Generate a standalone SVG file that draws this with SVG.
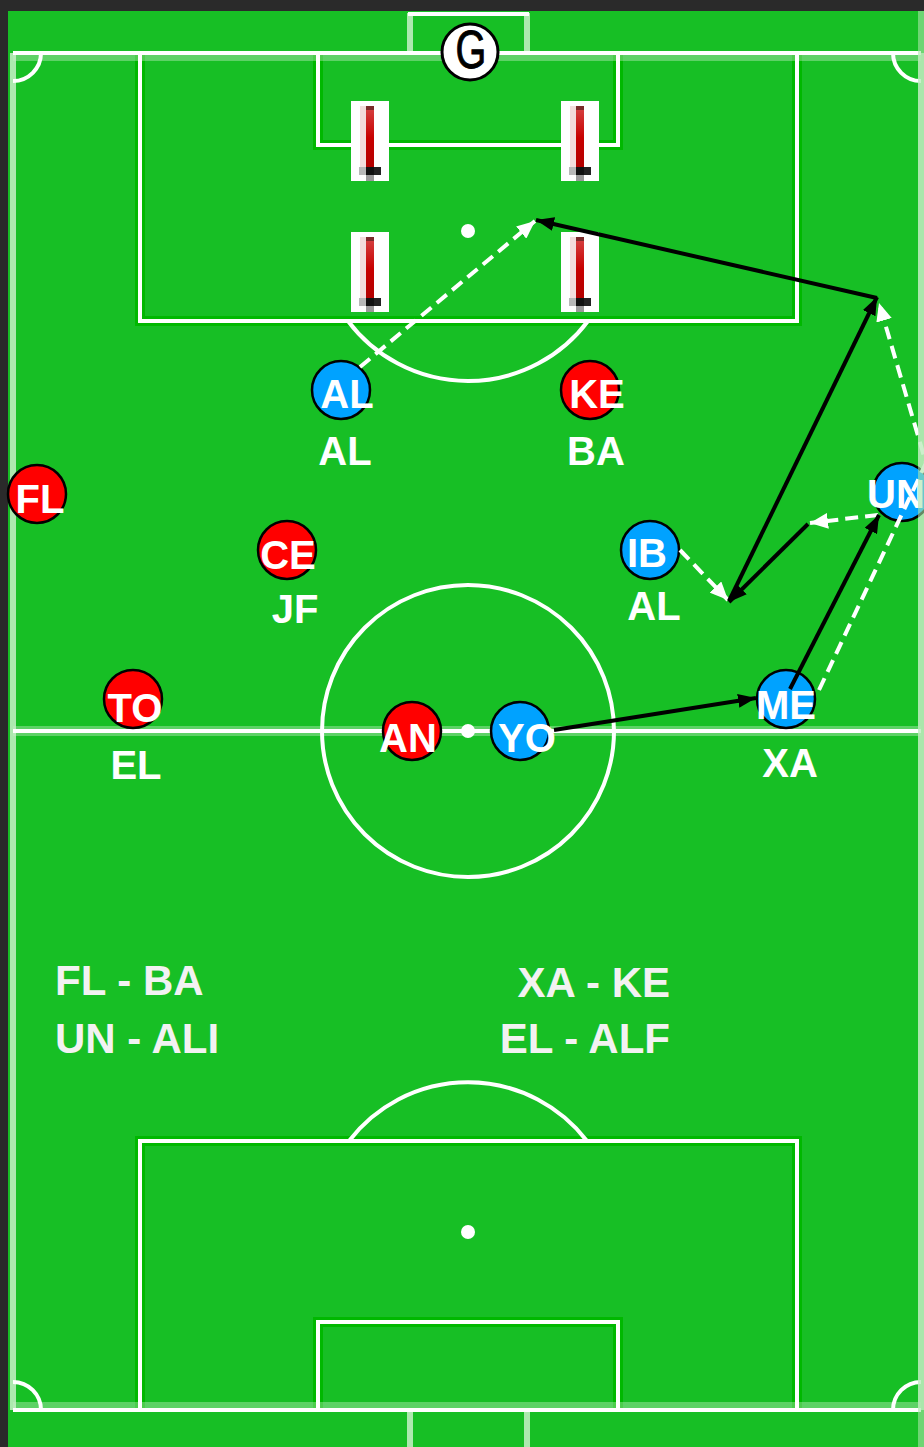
<svg xmlns="http://www.w3.org/2000/svg" width="924" height="1447" viewBox="0 0 924 1447">
<style>
.ln{fill:none;stroke:#ffffff;stroke-width:4}
.hd{fill:none;stroke:#00b800;stroke-width:10}
.pl{fill:none;stroke:#c8f0c8;stroke-width:6;opacity:0.85}
.ph{fill:none;stroke:#ffffff;stroke-width:10;opacity:0.3}
.spot{fill:#ffffff}
.red{fill:#ff0000;stroke:#000;stroke-width:2.5}
.blue{fill:#00a2ff;stroke:#000;stroke-width:2.5}
.pt{font-family:"Liberation Sans",Arial,sans-serif;font-weight:bold;font-size:40px;fill:#ffffff;text-anchor:middle}
.note{font-family:"Liberation Sans",Arial,sans-serif;font-weight:bold;font-size:42px;fill:#f2f2f2}
.pass{fill:none;stroke:#000;stroke-width:4;marker-end:url(#ab)}
.run{fill:none;stroke:#fff;stroke-width:4;stroke-dasharray:13 7;marker-end:url(#aw)}
</style>
<defs>
<marker id="ab" markerUnits="userSpaceOnUse" markerWidth="20" markerHeight="14" refX="18" refY="7" orient="auto"><path d="M0,0 L18,7 L0,14 Z" fill="#000"/></marker>
<marker id="aw" markerUnits="userSpaceOnUse" markerWidth="20" markerHeight="16" refX="18" refY="8" orient="auto"><path d="M0,0 L18,8 L0,16 Z" fill="#fff"/></marker>
<linearGradient id="rg" x1="0" y1="0" x2="0" y2="1"><stop offset="0" stop-color="#d64545"/><stop offset="0.5" stop-color="#c80000"/><stop offset="1" stop-color="#b00000"/></linearGradient>
<g id="mq">
<rect x="0" y="0" width="38" height="80" fill="#ffffff"/>
<rect x="9" y="5" width="6" height="63" fill="#f3dcdc"/>
<rect x="15" y="5" width="8" height="64" fill="url(#rg)"/>
<rect x="15" y="5" width="8" height="4" fill="#7a2a2a"/>
<rect x="8" y="66" width="7" height="8" fill="#b8b8b8"/>
<rect x="15" y="66" width="8" height="8" fill="#111"/>
<rect x="23" y="66" width="7" height="8" fill="#222"/>
<rect x="15" y="74" width="8" height="6" fill="#999"/>
</g>
</defs>
<rect x="0" y="0" width="924" height="1447" fill="#2a2a2a"/>
<g id="field">
<rect x="8" y="11" width="916" height="1436" fill="#17bf25"/>
<path class="hd" d="M140,53 V321 H797 V53 M318,53 V145 H618 V53 M140,1410 V1141 H797 V1410 M318,1410 V1322 H618 V1410"/>
<path class="ph" d="M13,56 H921 M13,731 H921 M13,1407 H921"/>
<path class="pl" d="M13,53 V1410 M921,53 V1410"/>
<path class="pl" d="M410,53 V13 M527,53 V13 M410,1410 V1447 M527,1410 V1447"/>
<path class="ln" d="M408,14 H529"/>
<path class="ln" d="M13,53 H921 M13,1410 H921 M13,731 H921"/>
<path class="ln" d="M140,53 V321 H797 V53 M318,53 V145 H618 V53"/>
<path class="ln" d="M140,1410 V1141 H797 V1410 M318,1410 V1322 H618 V1410"/>
<path class="ln" d="M348,321 A150,150 0 0 0 588,321"/>
<path class="ln" d="M349,1141 A150,150 0 0 1 587,1141"/>
<circle class="ln" cx="468" cy="731" r="146"/>
<circle class="spot" cx="468" cy="231" r="7"/>
<circle class="spot" cx="468" cy="731" r="7"/>
<circle class="spot" cx="468" cy="1232" r="7"/>
<path class="ln" d="M13,81 A28,28 0 0 0 41,53 M893,53 A28,28 0 0 0 921,81 M13,1382 A28,28 0 0 1 41,1410 M893,1410 A28,28 0 0 1 921,1382"/>
</g>
<g id="goalkeeper">
<circle cx="470" cy="52" r="28" fill="#fff" stroke="#000" stroke-width="3"/>
<text transform="translate(471,68) scale(0.9,1.2)" font-family="Liberation Sans,Arial,sans-serif" font-size="44" fill="#000" stroke="#000" stroke-width="0.8" text-anchor="middle">G</text>
</g>
<g id="mannequins">
<use href="#mq" x="351" y="101"/>
<use href="#mq" x="561" y="101"/>
<use href="#mq" x="351" y="232"/>
<use href="#mq" x="561" y="232"/>
</g>
<g id="player-AL"><circle class="blue" cx="341" cy="390" r="29"/><text class="pt" x="347" y="408">AL</text><text class="pt" x="345" y="465">AL</text></g>
<g id="player-KE"><circle class="red" cx="590" cy="390" r="29"/><text class="pt" x="597" y="408">KE</text><text class="pt" x="596" y="465">BA</text></g>
<g id="player-FL"><circle class="red" cx="37" cy="494" r="29"/><text class="pt" x="40" y="513">FL</text></g>
<g id="player-CE"><circle class="red" cx="287" cy="550" r="29"/><text class="pt" x="288" y="569">CE</text><text class="pt" x="295" y="623">JF</text></g>
<g id="player-TO"><circle class="red" cx="133" cy="699" r="29"/><text class="pt" x="135" y="722">TO</text><text class="pt" x="136" y="779">EL</text></g>
<g id="player-AN"><circle class="red" cx="412" cy="731" r="29"/><text class="pt" x="408" y="752">AN</text></g>
<g id="player-YO"><circle class="blue" cx="520" cy="731" r="29"/><text class="pt" x="527" y="752">YO</text></g>
<g id="player-ME"><circle class="blue" cx="786" cy="699" r="29"/><text class="pt" x="786" y="719">ME</text><text class="pt" x="790" y="777">XA</text></g>
<g id="player-IB"><circle class="blue" cx="650" cy="550" r="29"/><text class="pt" x="647" y="567">IB</text><text class="pt" x="654" y="620">AL</text></g>
<g id="player-UN"><circle class="blue" cx="902" cy="492" r="29"/><text class="pt" x="896" y="508">UN</text></g>
<g id="connectors">
<path class="run" d="M360,367 L535,221"/>
<path class="run" d="M680,550 L728,600"/>
<path class="run" d="M878,515 L810,523"/>
<path class="run" d="M819,690 L926,463 L879,303"/>
<path class="pass" d="M554,730 L756,698"/>
<path class="pass" d="M790,689 L879,515"/>
<path class="pass" d="M808,524 L729,602"/>
<path class="pass" d="M729,601 L877,297"/>
<path class="pass" d="M877,298 L536,220"/>
</g>
<rect x="918" y="11" width="6" height="1436" fill="#a8e4a8" opacity="0.6"/>
<g id="notes">
<text class="note" x="55" y="995">FL - BA</text>
<text class="note" x="55" y="1053">UN - ALI</text>
<text class="note" x="670" y="997" text-anchor="end">XA - KE</text>
<text class="note" x="670" y="1053" text-anchor="end">EL - ALF</text>
</g>
</svg>
